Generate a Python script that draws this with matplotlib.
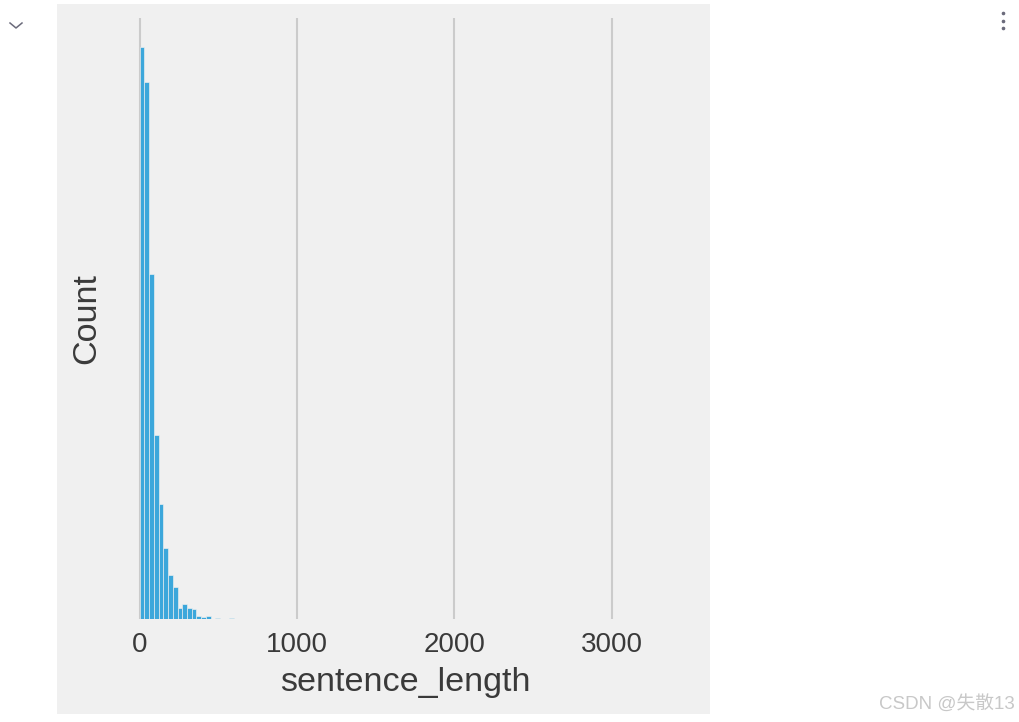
import numpy as np
import matplotlib
matplotlib.use("Agg")
import matplotlib.pyplot as plt
from matplotlib.lines import Line2D
from matplotlib.patches import Rectangle

# histogram of sentence lengths, bin width 30 (counts, y axis unlabeled)
bin_width = 30
counts = [1500, 1407, 905, 482, 302, 186, 116, 84, 30, 38, 30, 26, 7, 4, 7,
          0, 3, 0, 0, 3]
tail_bins = [112]      # single long sentence near 3372, too small to see
tail_counts = [1]
x_ticks = [0, 1000, 2000, 3000]
x_label = "sentence_length"
y_label = "Count"
watermark = "CSDN @失散13"

W, H = 1019, 722

def main():
    plt.rcParams["font.family"] = ["Liberation Sans", "Noto Sans CJK SC"]
    fig = plt.figure(figsize=(W / 100, H / 100), dpi=100, facecolor="white")

    # grey notebook output area
    fig.patches.append(Rectangle((57 / W, 1 - 714 / H), (710 - 57) / W, (714 - 4) / H,
                                 transform=fig.transFigure, facecolor="#f0f0f0",
                                 edgecolor="none", zorder=-5))

    ax = fig.add_axes([113 / W, 1 - 619 / H, (697 - 113) / W, (619 - 18) / H])
    ax.set_facecolor("#f0f0f0")
    ax.patch.set_alpha(0)
    ax.set_zorder(2)

    bins = list(range(len(counts))) + tail_bins
    heights = counts + tail_counts
    lefts = np.array(bins) * bin_width
    ax.bar(lefts, heights, width=bin_width, align="edge", color="#008fd5", alpha=0.75,
           edgecolor="#f0f0f0", linewidth=0.6, zorder=3)

    ax.set_xlim(-170, 3541)
    ax.set_ylim(0, 1575)
    ax.set_xticks(x_ticks)
    ax.set_yticks([])
    ax.grid(axis="x", color="#cbcbcb", linewidth=1.5, zorder=0)
    ax.grid(axis="y", visible=False)
    for s in ax.spines.values():
        s.set_visible(False)
    ax.tick_params(axis="x", length=0, pad=9, labelsize=20, labelcolor="#3a3a3a")
    ax.set_xlabel(x_label, fontsize=24.6, color="#3a3a3a", labelpad=7)
    ax.set_ylabel(y_label, fontsize=24.6, color="#3a3a3a", labelpad=8)

    # notebook chrome
    fig.add_artist(Line2D([10 / W, 16 / W, 22 / W], [1 - 23 / H, 1 - 28 / H, 1 - 23 / H],
                          transform=fig.transFigure, color="#6b6b7b", linewidth=1.1))
    for py in [13, 20.5, 28]:
        fig.add_artist(Line2D([1002.5 / W], [1 - py / H], transform=fig.transFigure,
                              marker="o", markersize=1.6, color="#6b6b7b", linestyle="none"))
    fig.text(1015 / W, 1 - 704 / H, watermark, ha="right", va="center", fontsize=13.5,
             color="#c8c8c8", family=["Liberation Sans", "Noto Sans CJK SC"])

    fig.savefig("out.png", dpi=100, facecolor="white")
    plt.close()


if __name__ == "__main__":
    main()
